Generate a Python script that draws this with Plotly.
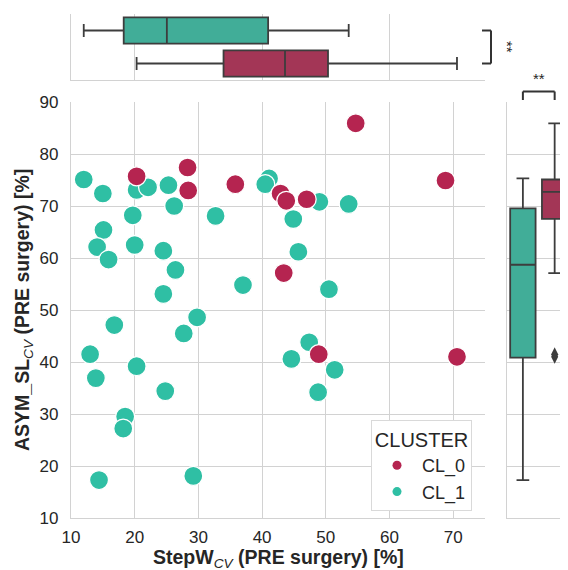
import numpy as np
import plotly.graph_objects as go

# The page body adds an 8 px offset, so the figure is laid out in screen pixels minus that.
OX, OY = 8, 8
W, H = 560, 562

# ---------------- data ----------------
clusters = ["CL_0", "CL_1"]

cl0_stepw = [20.3, 28.3, 28.4, 35.8, 54.7, 68.8, 42.9, 43.8, 47.0, 43.4, 48.9, 70.6]
cl0_asym = [75.7, 77.4, 73.0, 74.2, 85.9, 74.9, 72.4, 71.0, 71.3, 57.1, 41.5, 41.0]

cl1_stepw = [12.0, 15.0, 20.3, 22.1, 25.3, 26.2, 19.7, 32.7, 15.1, 14.1,
             20.0, 15.9, 24.5, 26.4, 37.0, 24.5, 29.8, 16.8, 27.7,
             41.1, 40.5, 49.0, 53.6, 44.9, 45.7, 50.5,
             47.4, 44.6, 51.4, 48.8,
             13.0, 13.9, 20.3, 24.8, 18.5, 18.2, 14.4, 29.2]
cl1_asym = [75.1, 72.4, 73.1, 73.6, 74.0, 70.0, 68.2, 68.1, 65.4, 62.1,
            62.5, 59.7, 61.4, 57.7, 54.8, 53.1, 48.6, 47.1, 45.5,
            75.3, 74.2, 70.8, 70.4, 67.5, 61.2, 54.0,
            43.8, 40.6, 38.5, 34.2,
            41.5, 36.9, 39.2, 34.4, 29.5, 27.2, 17.3, 18.1]

x_ticks = [10, 20, 30, 40, 50, 60, 70]
y_ticks = [10, 20, 30, 40, 50, 60, 70, 80, 90]
significance = "**"

# ---------------- styles ----------------
point_col = {"CL_0": "#B52450", "CL_1": "#2FBFA4"}
box_col = {"CL_0": "#A33656", "CL_1": "#41AD98"}
line_dark = "#3d3d3d"
grid = "#d2d2d2"
txt = "#262626"
FONT = "Liberation Sans, Arial, sans-serif"


def px(sx):
    return (sx - OX) / W


def py(sy):
    return 1 - (sy - OY) / H


def box_stats(v):
    a = np.sort(np.asarray(v, float))
    q1, med, q3 = np.percentile(a, [25, 50, 75])
    iqr = q3 - q1
    lo = a[a >= q1 - 1.5 * iqr].min()
    hi = a[a <= q3 + 1.5 * iqr].max()
    out = a[(a < lo) | (a > hi)]
    return q1, med, q3, lo, hi, out


data = {"CL_0": (cl0_stepw, cl0_asym), "CL_1": (cl1_stepw, cl1_asym)}

fig = go.Figure()

# main scatter
for c in ["CL_1", "CL_0"]:
    xs, ys = data[c]
    fig.add_trace(go.Scatter(
        x=xs, y=ys, mode="markers", name=c, showlegend=False,
        marker=dict(size=19, color=point_col[c], line=dict(color="white", width=1.3)),
        xaxis="x", yaxis="y", hoverinfo="skip"))

# legend entries (small dots like the reference)
for c in clusters:
    fig.add_trace(go.Scatter(
        x=[None], y=[None], mode="markers", name=c, showlegend=True,
        marker=dict(size=9, color=point_col[c]), xaxis="x", yaxis="y"))

# top marginal boxes (StepW)
for c in clusters:
    q1, med, q3, lo, hi, out = box_stats(data[c][0])
    fig.add_trace(go.Box(
        orientation="h", y=[c], q1=[q1], median=[med], q3=[q3],
        lowerfence=[lo], upperfence=[hi], width=0.8, whiskerwidth=0.5,
        fillcolor=box_col[c], line=dict(color=line_dark, width=1.8),
        boxpoints=False, showlegend=False, xaxis="x2", yaxis="y2", hoverinfo="skip"))
    if len(out):
        fig.add_trace(go.Scatter(
            x=out, y=[c] * len(out), mode="markers", showlegend=False,
            marker=dict(symbol="diamond-wide", size=10, color=line_dark),
            xaxis="x2", yaxis="y2"))

# right marginal boxes (ASYM)
for c in clusters:
    q1, med, q3, lo, hi, out = box_stats(data[c][1])
    fig.add_trace(go.Box(
        x=[c], q1=[q1], median=[med], q3=[q3],
        lowerfence=[lo], upperfence=[hi], width=0.8, whiskerwidth=0.5,
        fillcolor=box_col[c], line=dict(color=line_dark, width=1.8),
        boxpoints=False, showlegend=False, xaxis="x3", yaxis="y3", hoverinfo="skip"))
    if len(out):
        fig.add_trace(go.Scatter(
            x=[c] * len(out), y=out, mode="markers", showlegend=False,
            marker=dict(symbol="diamond-tall", size=10, color=line_dark),
            xaxis="x3", yaxis="y3", hoverinfo="skip"))

main_xdom = [px(71), px(485)]
main_ydom = [py(518), py(102)]

common = dict(gridcolor=grid, gridwidth=1, linecolor=grid, linewidth=1.3,
              zeroline=False, showline=True, automargin=False)

fig.update_layout(
    width=W, height=H,
    margin=dict(l=0, r=0, t=0, b=0, pad=0, autoexpand=False),
    paper_bgcolor="white", plot_bgcolor="white",
    font=dict(family=FONT, color=txt, size=17),
    boxmode="overlay",
    xaxis=dict(domain=main_xdom, range=[10, 75], tickvals=x_ticks, anchor="y",
               showgrid=True, ticks="outside", ticklen=3, tickcolor="rgba(0,0,0,0)",
               tickfont=dict(size=17, color=txt), **common),
    yaxis=dict(domain=main_ydom, range=[10, 90], tickvals=y_ticks, anchor="x",
               showgrid=True, ticks="outside", ticklen=8, tickcolor="rgba(0,0,0,0)",
               tickfont=dict(size=17, color=txt), **common),
    xaxis2=dict(domain=main_xdom, matches="x", anchor="y2", showgrid=True,
                showticklabels=False, ticks="", **common),
    yaxis2=dict(domain=[py(80), py(14)], type="category", categoryorder="array",
                categoryarray=["CL_0", "CL_1"], range=[-0.5, 1.5], anchor="x2",
                showgrid=False, showticklabels=False, ticks="", **common),
    xaxis3=dict(domain=[px(507), 1], type="category", categoryorder="array",
                categoryarray=["CL_1", "CL_0"], range=[-0.5, 1.42], anchor="y3",
                showgrid=False, showticklabels=False, ticks="", **common),
    yaxis3=dict(domain=main_ydom, matches="y", anchor="x3", showgrid=True,
                showticklabels=False, ticks="", **common),
    legend=dict(x=px(472), xanchor="right", y=py(511), yanchor="bottom",
                bgcolor="white", bordercolor="#d9d9d9", borderwidth=1,
                font=dict(size=18, color=txt), itemwidth=40,
                title=dict(text="CLUSTER", side="top center", font=dict(size=20, color=txt))),
)

# significance brackets
bk = dict(color="#333333", width=2)
fig.add_shape(type="line", xref="paper", yref="y2", x0=px(482), x1=px(491), y0=1, y1=1, line=bk)
fig.add_shape(type="line", xref="paper", yref="y2", x0=px(491), x1=px(491), y0=1, y1=0, line=bk)
fig.add_shape(type="line", xref="paper", yref="y2", x0=px(482), x1=px(491), y0=0, y1=0, line=bk)
fig.add_annotation(xref="paper", yref="y2", x=px(507), y=0.5, text=significance,
                   xanchor="center", yanchor="middle",
                   textangle=90, showarrow=False, font=dict(size=15, color=txt))
fig.add_shape(type="line", xref="x3", yref="paper", x0=0, x1=1, y0=py(91.5), y1=py(91.5), line=bk)
fig.add_shape(type="line", xref="x3", yref="paper", x0=0, x1=0, y0=py(91.5), y1=py(100), line=bk)
fig.add_shape(type="line", xref="x3", yref="paper", x0=1, x1=1, y0=py(91.5), y1=py(100), line=bk)
fig.add_annotation(xref="x3", yref="paper", x=0.5, y=py(78), text=significance,
                   xanchor="center", yanchor="middle",
                   showarrow=False, font=dict(size=15, color=txt))

# axis titles
fig.add_annotation(xref="paper", yref="paper", x=px(278), y=py(558),
                   xanchor="center", yanchor="middle",
                   text="<b>StepW</b><sub><i>CV</i></sub><b> (PRE surgery) [%]</b>",
                   showarrow=False, font=dict(size=19.5, color=txt))
fig.add_annotation(xref="paper", yref="paper", x=px(23), y=py(310), textangle=-90,
                   xanchor="center", yanchor="middle",
                   text="<b>ASYM_SL</b><sub><i>CV</i></sub><b> (PRE surgery) [%]</b>",
                   showarrow=False, font=dict(size=19.5, color=txt))

fig.write_html("out.html")
